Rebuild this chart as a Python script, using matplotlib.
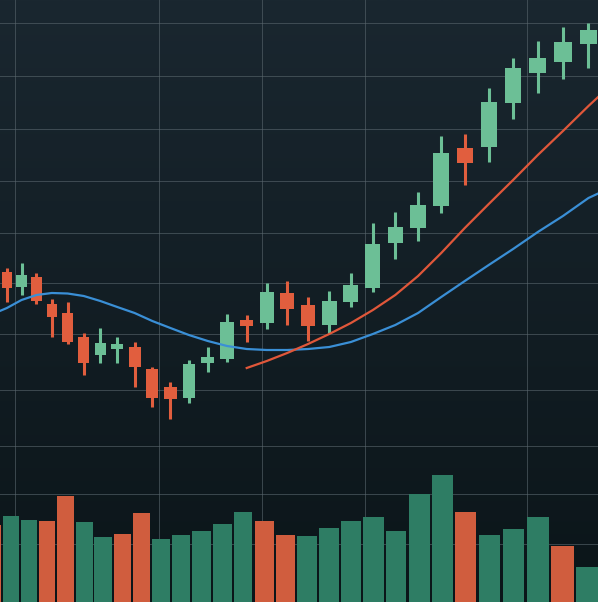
import numpy as np
import matplotlib
matplotlib.use("Agg")
import matplotlib.pyplot as plt
from matplotlib.colors import LinearSegmentedColormap

# Candle data (30 sessions)
opens = [132.8, 131.3, 132.3, 129.6, 128.7, 126.3, 124.5, 125.1, 125.3, 123.1,
         121.3, 120.2, 123.7, 124.1, 128.0, 127.7, 130.7, 129.5, 127.5, 129.8,
         131.2, 135.7, 137.2, 139.4, 145.2, 145.3, 149.7, 152.7, 153.8, 155.6]
closes = [131.2, 132.5, 129.9, 128.3, 125.8, 123.7, 125.7, 125.6, 123.3, 120.2,
          120.1, 123.6, 124.3, 127.8, 127.4, 130.8, 129.1, 127.4, 129.9, 131.5,
          135.6, 137.3, 139.5, 144.7, 143.7, 149.8, 153.2, 154.2, 155.8, 157.0]
highs = [133.2, 133.7, 132.7, 130.1, 129.8, 126.7, 127.2, 126.3, 125.8, 123.3,
         121.8, 124.0, 125.3, 128.6, 128.5, 131.7, 131.9, 130.3, 130.9, 132.7,
         137.7, 138.8, 140.8, 146.4, 146.6, 151.2, 154.2, 155.9, 157.3, 157.7]
lows = [129.8, 130.5, 129.6, 126.3, 125.6, 122.5, 123.7, 123.7, 121.3, 119.3,
        118.1, 119.7, 122.8, 123.8, 125.8, 127.1, 127.5, 125.9, 126.7, 129.3,
        130.8, 134.1, 135.9, 138.7, 141.5, 143.8, 148.1, 150.7, 152.1, 153.2]

# Moving averages
ma_slow_x = np.arange(-1, 31)
ma_slow = [128.6, 129.2, 130.0, 130.5, 130.7, 130.65, 130.4, 129.9, 129.3, 128.7,
           127.9, 127.2, 126.5, 125.9, 125.4, 125.1, 125.0, 125.0, 125.1, 125.3,
           125.8, 126.6, 127.5, 128.7, 130.3, 131.9, 133.5, 135.1, 136.8, 138.4,
           140.2, 141.4]
ma_fast_x = np.arange(14, 31)
ma_fast = [123.2, 123.9, 124.7, 125.6, 126.6, 127.7, 129.0, 130.5, 132.4, 134.7,
           137.2, 139.6, 142.0, 144.5, 146.9, 149.4, 151.8]

# Volume bars
volume = [77, 86, 82, 81, 106, 80, 65, 68, 89, 63, 67, 71, 78, 90, 81,
          67, 66, 74, 81, 85, 71, 108, 127, 90, 67, 73, 85, 56, 35]
volume_up = [0, 1, 1, 0, 0, 1, 1, 0, 0, 1, 1, 1, 1, 1, 0,
             0, 1, 1, 1, 1, 1, 1, 1, 0, 1, 1, 1, 0, 1]

GREEN = "#6cbf96"
RED = "#e15e3e"
VOL_GREEN = "#2e7d64"
VOL_RED = "#d05d3e"


def make_scale(c):
    # stretches the right side a bit, like the chart is seen at an angle
    def fwd(x):
        x = np.asarray(x, dtype=float)
        return x + c * x * x

    def inv(y):
        y = np.asarray(y, dtype=float)
        with np.errstate(invalid="ignore"):
            return (np.sqrt(1 + 4 * c * y) - 1) / (2 * c)
    return fwd, inv


fig = plt.figure(figsize=(5.98, 6.02), dpi=100)

# background gradient
bg = fig.add_axes([0, 0, 1, 1])
cmap = LinearSegmentedColormap.from_list("bg", ["#0b1519", "#1a2730"])
bg.imshow(np.linspace(0, 1, 256).reshape(-1, 1), cmap=cmap, aspect="auto",
          origin="lower", extent=[0, 1, 0, 1])
bg.set_axis_off()

ax = fig.add_axes([0, 0, 1, 1], facecolor="none")
ax.set_xscale("function", functions=make_scale(0.01354))
ax.set_xlim(-0.483, 29.37)
ax.set_ylim(99.8, 160)

x = np.arange(len(opens))
colors = [GREEN if c >= o else RED for o, c in zip(opens, closes)]
ax.vlines(x, lows, highs, colors=colors, linewidth=2.2, zorder=3)
ax.bar(x, np.array(closes) - np.array(opens), bottom=opens, width=0.68,
       color=colors, zorder=4)

ax.plot(ma_slow_x, ma_slow, color="#3a8fd6", linewidth=1.6, zorder=5)
ax.plot(ma_fast_x, ma_fast, color="#e0573a", linewidth=1.6, zorder=5)

ax.set_xticks([0.55, 9.35, 14.75, 19.65, 26.55])
ax.set_yticks([157.7, 152.4, 147.1, 141.9, 136.7, 131.7, 126.6, 121.0,
               115.4, 110.6, 105.6])
ax.grid(True, color="#5a676e", linewidth=0.7, alpha=0.6)
ax.set_axisbelow(True)
ax.tick_params(length=0, labelbottom=False, labelleft=False)
for s in ax.spines.values():
    s.set_visible(False)

# volume panel at the bottom
vax = fig.add_axes([0, 0, 1, 142 / 602], facecolor="none")
vax.set_xscale("function", functions=make_scale(0.00767))
vax.set_xlim(0.377, 28.43)
vax.set_ylim(0, 142)
vx = np.arange(len(volume))
vcolors = [VOL_GREEN if u else VOL_RED for u in volume_up]
vax.bar(vx, volume, width=0.9, color=vcolors)
vax.set_axis_off()

fig.savefig("out.png", dpi=100)
